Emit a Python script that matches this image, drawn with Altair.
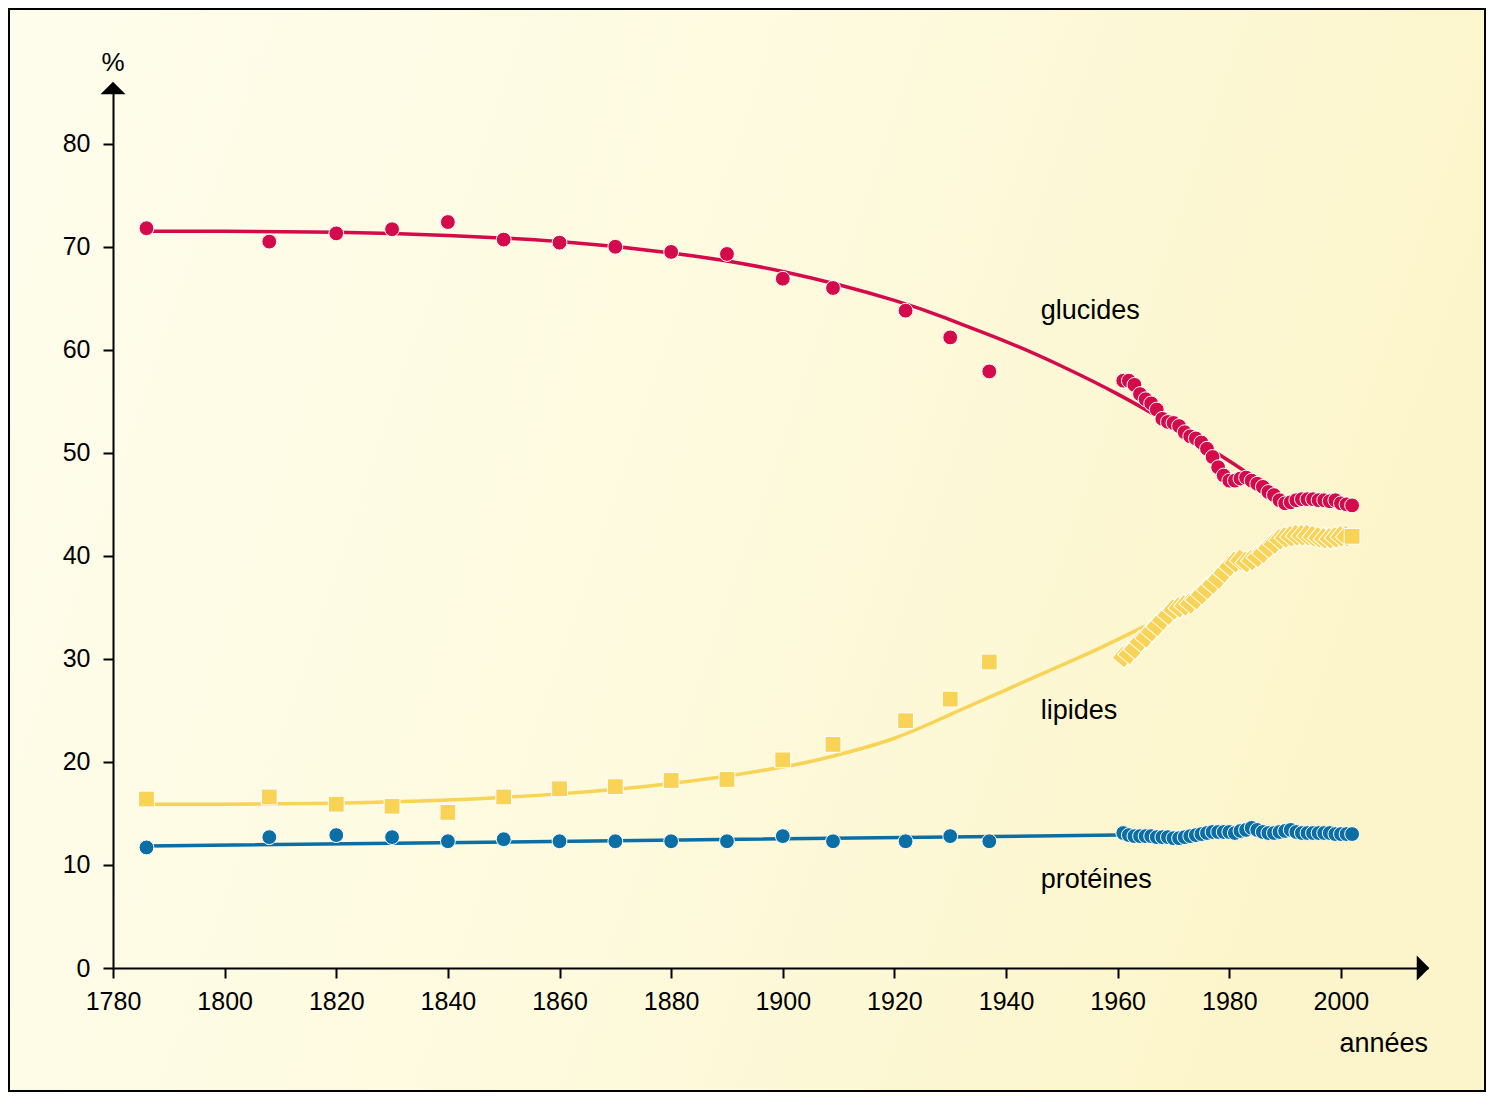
import altair as alt
import pandas as pd

# ---------------- data ----------------
hist_years = [1786, 1808, 1820, 1830, 1840, 1850, 1860, 1870, 1880, 1890, 1900, 1909, 1922, 1930, 1937]
glucides_hist = [71.8, 70.5, 71.3, 71.7, 72.4, 70.7, 70.4, 70.0, 69.5, 69.3, 66.9, 66.0, 63.8, 61.2, 57.9]
lipides_hist = [16.4, 16.6, 15.9, 15.7, 15.1, 16.6, 17.4, 17.6, 18.2, 18.3, 20.2, 21.7, 24.0, 26.1, 29.7]
proteines_hist = [11.7, 12.7, 12.9, 12.7, 12.3, 12.5, 12.3, 12.3, 12.3, 12.3, 12.8, 12.3, 12.3, 12.8, 12.3]

recent_years = [1961, 1962, 1963, 1964, 1965, 1966, 1967, 1968, 1969, 1970,
                1971, 1972, 1973, 1974, 1975, 1976, 1977, 1978, 1979, 1980,
                1981, 1982, 1983, 1984, 1985, 1986, 1987, 1988, 1989, 1990,
                1991, 1992, 1993, 1994, 1995, 1996, 1997, 1998, 1999, 2000,
                2001, 2002]
glucides_recent = [57.0, 57.0, 56.6, 55.7, 55.2, 54.8, 54.2, 53.3, 53.0, 52.9,
                   52.6, 52.0, 51.6, 51.4, 51.0, 50.4, 49.6, 48.6, 47.8, 47.3,
                   47.3, 47.5, 47.6, 47.3, 47.0, 46.7, 46.2, 45.9, 45.4, 45.1,
                   45.2, 45.4, 45.5, 45.5, 45.5, 45.4, 45.4, 45.3, 45.4, 45.1,
                   45.0, 44.9]
lipides_recent = [30.2, 30.5, 31.0, 31.7, 32.1, 32.7, 33.2, 33.8, 34.3, 34.8,
                  35.0, 35.2, 35.4, 35.8, 36.3, 36.8, 37.3, 37.8, 38.4, 39.0,
                  39.4, 39.6, 39.4, 39.6, 39.9, 40.3, 40.8, 41.2, 41.6, 41.8,
                  41.9, 42.0, 42.0, 42.0, 41.9, 41.8, 41.7, 41.7, 41.8, 41.9,
                  41.9, 41.9]
proteines_recent = [13.1, 12.9, 12.8, 12.8, 12.8, 12.8, 12.7, 12.7, 12.7, 12.6,
                    12.6, 12.7, 12.8, 12.9, 13.0, 13.1, 13.2, 13.2, 13.2, 13.2,
                    13.1, 13.3, 13.4, 13.6, 13.4, 13.2, 13.1, 13.1, 13.2, 13.3,
                    13.4, 13.2, 13.1, 13.1, 13.1, 13.1, 13.1, 13.1, 13.0, 13.0,
                    13.0, 13.0]

glucides_trend_years = [1786, 1800, 1820, 1840, 1860, 1880, 1900, 1920, 1930, 1940, 1950, 1960, 1970, 1980, 1983]
glucides_trend = [71.5, 71.5, 71.4, 71.1, 70.5, 69.4, 67.6, 64.8, 62.9, 60.8, 58.4, 55.7, 52.6, 49.2, 48.1]
lipides_trend_years = [1786, 1800, 1820, 1840, 1860, 1880, 1900, 1910, 1920, 1930, 1940, 1950, 1957, 1965]
lipides_trend = [15.9, 15.9, 16.0, 16.3, 16.9, 17.9, 19.5, 20.7, 22.3, 24.6, 27.0, 29.4, 31.1, 33.2]
proteines_trend_years = [1786, 1870, 1960]
proteines_trend = [11.85, 12.35, 12.9]

series_names = ["glucides", "lipides", "protéines"]
series_colors = ["#d40a4b", "#f9d356", "#0b6fa6"]
label_years = [1946.2, 1946.2, 1946.2]
label_values = [63.8, 24.9, 8.5]

x_ticks = [1780, 1800, 1820, 1840, 1860, 1880, 1900, 1920, 1940, 1960, 1980, 2000]
y_ticks = [0, 10, 20, 30, 40, 50, 60, 70, 80]

# ---------------- tables ----------------
pts = []
for name, h, r in zip(series_names,
                      [glucides_hist, lipides_hist, proteines_hist],
                      [glucides_recent, lipides_recent, proteines_recent]):
    for yr, v in zip(hist_years, h):
        pts.append({"series": name, "year": yr, "value": v})
    for yr, v in zip(recent_years, r):
        pts.append({"series": name, "year": yr, "value": v})
pts = pd.DataFrame(pts)
pts["order"] = range(len(pts))

trend = []
for name, ys_, vs in zip(series_names,
                         [glucides_trend_years, lipides_trend_years, proteines_trend_years],
                         [glucides_trend, lipides_trend, proteines_trend]):
    for yr, v in zip(ys_, vs):
        trend.append({"series": name, "year": yr, "value": v})
trend = pd.DataFrame(trend)

labels = pd.DataFrame({"label": series_names, "year": label_years, "value": label_values})

# ---------------- geometry ----------------
W, H = 1315, 883
PAD = {"left": 105, "top": 77, "right": 58, "bottom": 124}
FONT = "Liberation Sans"

xs = alt.Scale(domain=[1780, 2015.6], nice=False, zero=False)
ys = alt.Scale(domain=[0, 85.7], nice=False, zero=False)
color = alt.Color("series:N", scale=alt.Scale(domain=series_names, range=series_colors), legend=None)

axis_common = dict(format="d", tickSize=10, zindex=2, labelFlush=False, labelBound=False,
                   labelOverlap=False, grid=False, domainColor="black", domainWidth=2,
                   tickColor="black", tickWidth=2, labelFont=FONT, labelFontSize=25,
                   labelColor="black")
X = alt.X("year:Q", scale=xs, title=None,
          axis=alt.Axis(values=x_ticks, labelPadding=11, **axis_common))
Y = alt.Y("value:Q", scale=ys, title=None,
          axis=alt.Axis(values=y_ticks, labelPadding=13, **axis_common))

one = alt.Data(values=[{"a": 1}])

bg = alt.Chart(one).mark_rect(
    color=alt.LinearGradient(
        gradient="linear", x1=0, y1=0, x2=1, y2=0.25,
        stops=[alt.GradientStop(color="#fefdec", offset=0),
               alt.GradientStop(color="#fdfade", offset=0.55),
               alt.GradientStop(color="#fcf5cb", offset=1)]),
    stroke="black", strokeWidth=2,
).encode(
    x=alt.value(-PAD["left"] + 1), x2=alt.value(W + PAD["right"] - 1),
    y=alt.value(-PAD["top"] + 1), y2=alt.value(H + PAD["bottom"] - 1),
)

lines = alt.Chart(trend).mark_line(strokeWidth=3.5, interpolate="natural").encode(
    x=X, y=Y, color=color, detail="series:N"
)

circles = alt.Chart(pts).transform_filter(
    "datum.series != 'lipides'"
).mark_point(shape="circle", filled=True, size=220, opacity=1,
             stroke="white", strokeWidth=1).encode(
    x=X, y=Y, fill=alt.Fill("series:N", scale=alt.Scale(domain=series_names, range=series_colors), legend=None),
    order="order:Q"
)

squares = alt.Chart(pts).transform_filter(
    "datum.series == 'lipides'"
).mark_point(shape="square", filled=True, size=250, opacity=1,
             stroke="white", strokeWidth=1).encode(
    x=X, y=Y, fill=alt.value("#f9d356"),
    angle=alt.condition("datum.year > 1950 && datum.year < 2002", alt.value(40), alt.value(0)),
    order="order:Q"
)

series_text = alt.Chart(labels).mark_text(
    align="left", baseline="middle", font=FONT, fontSize=27, color="black"
).encode(x=X, y=Y, text="label:N")

pct = alt.Chart(one).mark_text(
    align="center", baseline="middle", font=FONT, fontSize=26, color="black", text="%"
).encode(x=alt.value(0), y=alt.value(-22))

annees = alt.Chart(one).mark_text(
    align="right", baseline="middle", font=FONT, fontSize=27, color="black", text="années"
).encode(x=alt.value(W), y=alt.value(959))

arrow_x = alt.Chart(one).mark_point(
    shape="M-0.5,-1L0.5,0L-0.5,1Z", filled=True, size=625, opacity=1,
    color="black", strokeWidth=0
).encode(x=alt.value(W - 5), y=alt.value(H))

arrow_y = alt.Chart(one).mark_point(
    shape="M-1,0.5L0,-0.5L1,0.5Z", filled=True, size=625, opacity=1,
    color="black", strokeWidth=0
).encode(x=alt.value(0), y=alt.value(3))

chart = alt.layer(
    bg, lines, squares, circles, series_text, pct, annees, arrow_x, arrow_y
).properties(
    width=W, height=H,
    autosize=alt.AutoSizeParams(type="none"),
    padding=PAD,
).configure(
    background="white",
).configure_view(
    stroke=None,
)

chart.save("out.html", embed_options={"renderer": "svg", "actions": False})
